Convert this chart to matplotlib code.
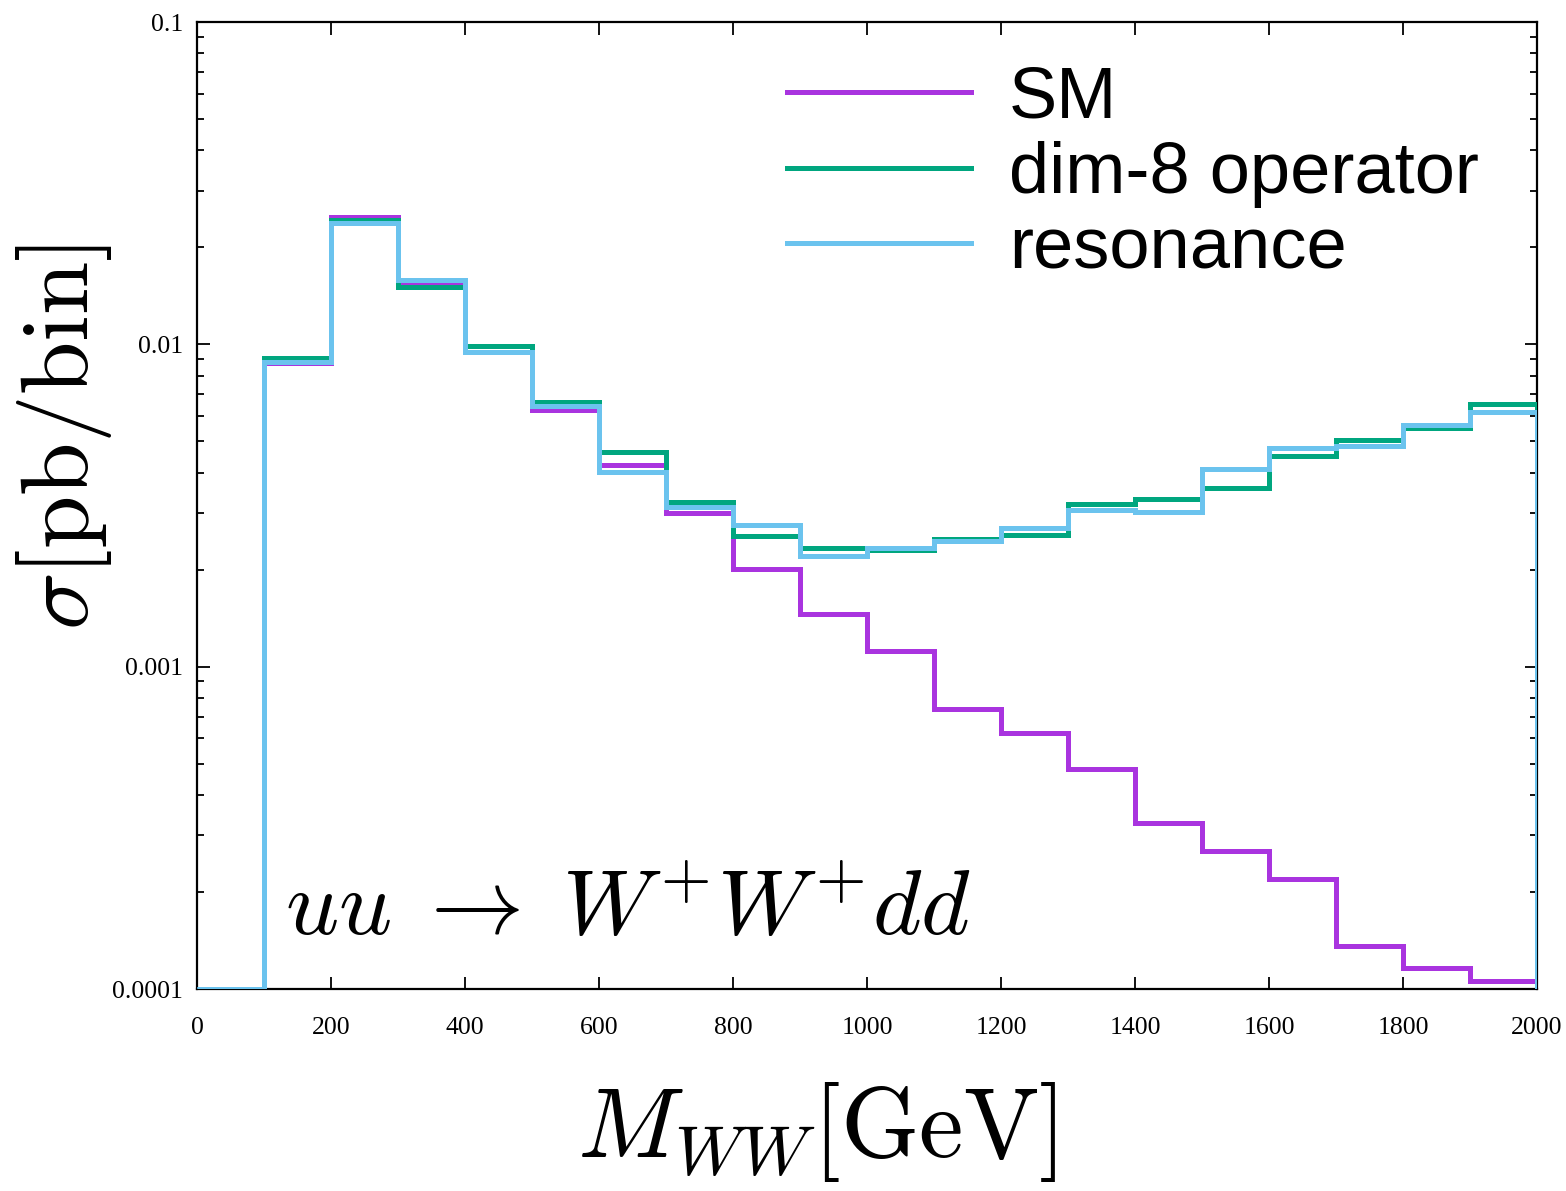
import numpy as np
import matplotlib
matplotlib.use("Agg")
import matplotlib.pyplot as plt
from matplotlib.ticker import FixedLocator, LogLocator, NullFormatter

plt.rcParams["mathtext.fontset"] = "cm"

# Bin edges in M_WW [GeV]
edges = [0, 100, 200, 300, 400, 500, 600, 700, 800, 900, 1000,
         1100, 1200, 1300, 1400, 1500, 1600, 1700, 1800, 1900, 2000]

# Cross section per bin [pb/bin]; first bin sits at the plot floor
sm = [1e-4, 0.00875, 0.0248, 0.0154, 0.00946, 0.00625, 0.00422, 0.00300,
      0.00201, 0.001456, 0.001118, 0.000739, 0.000622, 0.000481, 0.000327,
      0.000268, 0.000219, 0.000136, 0.000116, 0.000106]
dim8 = [1e-4, 0.00907, 0.0243, 0.01506, 0.00988, 0.00662, 0.00463, 0.00324,
        0.00254, 0.00233, 0.00230, 0.00249, 0.00256, 0.00320, 0.00331,
        0.00358, 0.00450, 0.00505, 0.00550, 0.00653]
resonance = [1e-4, 0.00881, 0.02378, 0.01583, 0.00946, 0.00643, 0.00402,
             0.00313, 0.00275, 0.00220, 0.00233, 0.002454, 0.00269, 0.00306,
             0.00302, 0.00410, 0.00477, 0.00484, 0.00562, 0.00617]

labels = ["SM", "dim-8 operator", "resonance"]
colors = ["#A934DF", "#00A67F", "#6BC3EE"]

x_ticks = [0, 200, 400, 600, 800, 1000, 1200, 1400, 1600, 1800, 2000]
y_ticks = [1e-4, 1e-3, 1e-2, 1e-1]
y_ticklabels = ["0.0001", "0.001", "0.01", "0.1"]

fig = plt.figure(figsize=(15.66, 11.91), dpi=100)
ax = fig.add_axes([0.1258, 0.1696, 0.8557, 0.8119])

floor = 1e-4
for vals, c, lab in zip([sm, dim8, resonance], colors, labels):
    ax.stairs(vals, edges, baseline=floor, color=c, linewidth=3.6,
              label=lab, zorder=3)

ax.set_yscale("log")
ax.set_xlim(0, 2000)
ax.set_ylim(1e-4, 1e-1)

ax.xaxis.set_major_locator(FixedLocator(x_ticks))
ax.set_xticklabels([str(t) for t in x_ticks])
ax.yaxis.set_major_locator(FixedLocator(y_ticks))
ax.set_yticklabels(y_ticklabels)
ax.yaxis.set_minor_locator(LogLocator(base=10, subs=np.arange(2, 10)))
ax.yaxis.set_minor_formatter(NullFormatter())

for lbl in ax.get_xticklabels() + ax.get_yticklabels():
    lbl.set_fontfamily("Liberation Serif")
    lbl.set_fontsize(18.5)

ax.tick_params(which="both", direction="in", top=True, right=True, width=1.3)
ax.tick_params(axis="x", which="major", length=9, pad=20)
ax.tick_params(axis="y", which="major", length=9, pad=10)
ax.tick_params(axis="y", which="minor", length=5)
for s in ax.spines.values():
    s.set_linewidth(1.6)

ax.set_xlabel(r"$M_{WW}[\mathrm{GeV}]$", fontsize=72)
ax.xaxis.set_label_coords(0.462, -0.094)
ax.set_ylabel(r"$\sigma[\mathrm{pb/bin}]$", fontsize=69)
ax.yaxis.set_label_coords(-0.062, 0.571)

ax.text(0.066, 0.056, r"$uu \;\rightarrow\; W^{+}W^{+}dd$",
        transform=ax.transAxes, fontsize=67, ha="left", va="baseline")

leg = ax.legend(loc="upper right", frameon=False,
                prop={"family": "Liberation Sans", "size": 52},
                handlelength=2.55, handletextpad=0.52, labelspacing=0.12,
                borderaxespad=0.0, bbox_to_anchor=(0.978, 0.985))

fig.savefig("out.png", dpi=100)
